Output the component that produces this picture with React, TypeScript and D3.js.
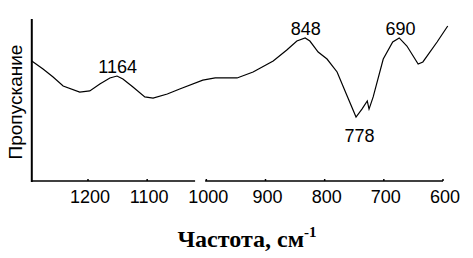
import { line, scaleLinear } from "d3";

// IR spectrum (frequency in cm-1, transmittance in %)
const frequency = [
  1295, 1276, 1259, 1242, 1214, 1197, 1180, 1163, 1151, 1141, 1124, 1104, 1090,
  1066, 1045, 1006, 985, 948, 921, 887, 864, 847, 833, 825, 811, 796, 779, 762,
  747, 737, 728, 725, 718, 701, 685, 674, 661, 642, 634, 610, 592,
];
const transmittance = [
  74.1, 69.1, 64.2, 58.6, 54.9, 55.6, 59.9, 63.6, 64.8, 63.0, 58.0, 51.9, 51.2,
  53.7, 56.8, 62.3, 63.6, 63.6, 67.3, 74.1, 80.9, 86.4, 88.3, 86.4, 79.6, 75.3,
  67.3, 52.5, 39.5, 44.4, 49.4, 44.4, 51.9, 75.3, 85.8, 88.3, 83.3, 72.2, 73.5,
  85.8, 95.7,
];

const tickValues = [1200, 1100, 1000, 900, 800, 700, 600];

const peakLabels = ["1164", "848", "690", "778"];
const peakFrequency = [1150, 832, 672, 741];
const peakTransmittance = [64.8, 88.3, 88.3, 39.5];
const peakBelow = [false, false, false, true];

const freqMin = 600;
const freqMax = 1295;
const breakFrom = 1019;
const breakTo = 1002;

const sans = "'Liberation Sans', Arial, sans-serif";

export default function App() {
  const x = scaleLinear().domain([1200, 600]).range([88, 443]);
  const y = scaleLinear().domain([0, 100]).range([181, 19]);

  const points = frequency.map((f, i) => [f, transmittance[i]] as [number, number]);
  const path = line<[number, number]>()
    .x((d) => x(d[0]))
    .y((d) => y(d[1]))(points);

  return (
    <svg
      width={473}
      height={258}
      style={{ position: "absolute", left: 0, top: 0, background: "#fff" }}
    >
      <line x1={x(freqMax)} x2={x(freqMax)} y1={y(100)} y2={y(0) + 1} stroke="#000" strokeWidth={2} />
      <line x1={x(freqMax)} x2={x(breakFrom)} y1={y(0)} y2={y(0)} stroke="#000" strokeWidth={1.5} />
      <line x1={x(breakTo)} x2={x(freqMin)} y1={y(0)} y2={y(0)} stroke="#000" strokeWidth={1.5} />
      {tickValues.map((t) => (
        <g key={t} transform={`translate(${x(t)}, ${y(0)})`}>
          <line y2={-2} stroke="#000" strokeWidth={1.5} />
          <text x={2} y={22} textAnchor="middle" fontFamily={sans} fontSize={18} fill="#000">
            {t}
          </text>
        </g>
      ))}

      <path d={path ?? ""} fill="none" stroke="#000" strokeWidth={1.2} />

      {peakLabels.map((label, i) => (
        <text
          key={label}
          x={x(peakFrequency[i])}
          y={y(peakTransmittance[i]) + (peakBelow[i] ? 25 : -3)}
          textAnchor="middle"
          fontFamily={sans}
          fontSize={18}
          fill="#000"
        >
          {label}
        </text>
      ))}

      <text
        transform={`translate(22, ${(y(0) + y(100)) / 2 + 2}) rotate(-90)`}
        textAnchor="middle"
        fontFamily={sans}
        fontSize={19}
        fill="#000"
      >
        Пропускание
      </text>

      <text
        x={247}
        y={247}
        textAnchor="middle"
        fontFamily="'Liberation Serif', 'Times New Roman', serif"
        fontWeight="bold"
        fontSize={24}
        fill="#000"
      >
        Частота, см
        <tspan fontSize={15} dy={-10}>-1</tspan>
      </text>
    </svg>
  );
}
